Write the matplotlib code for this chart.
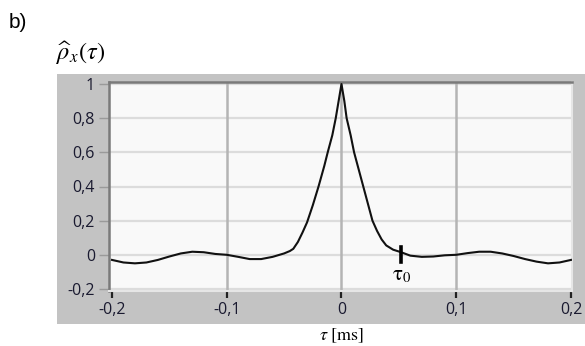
import numpy as np
import matplotlib
matplotlib.use('Agg')
from matplotlib import pyplot as plt
from matplotlib.patches import Rectangle
from matplotlib.ticker import FuncFormatter

plt.rcParams['mathtext.fontset'] = 'stix'

# values
tau = [-0.2, -0.19, -0.18, -0.17, -0.16, -0.15, -0.14, -0.13, -0.12, -0.11,
       -0.10, -0.09, -0.08, -0.07, -0.06, -0.05, -0.045, -0.042, -0.038, -0.034,
       -0.03, -0.025, -0.02, -0.015, -0.012, -0.008, -0.005, -0.0025, 0.0,
       0.0025, 0.0045, 0.008, 0.011, 0.015, 0.019, 0.023, 0.027, 0.031, 0.035,
       0.039, 0.045, 0.052, 0.06, 0.07, 0.08, 0.09, 0.10, 0.11, 0.12, 0.13,
       0.14, 0.15, 0.16, 0.17, 0.18, 0.19, 0.2]
rho = [-0.03, -0.045, -0.05, -0.045, -0.03, -0.01, 0.008, 0.018, 0.015, 0.005,
       0.0, -0.012, -0.025, -0.025, -0.012, 0.008, 0.022, 0.035, 0.075, 0.13,
       0.19, 0.29, 0.4, 0.52, 0.6, 0.7, 0.8, 0.9, 1.0,
       0.9, 0.8, 0.7, 0.6, 0.5, 0.4, 0.3, 0.2, 0.14, 0.09,
       0.055, 0.03, 0.015, -0.005, -0.012, -0.01, -0.003, 0.0, 0.01, 0.018, 0.018,
       0.008, -0.007, -0.025, -0.04, -0.05, -0.045, -0.03]
tau0 = 0.052
xTicks = [-0.2, -0.1, 0.0, 0.1, 0.2]
yTicks = [-0.2, 0.0, 0.2, 0.4, 0.6, 0.8, 1.0]

W, H = 585, 346

def commaFmt(v, pos):
    if abs(v) < 1e-9:
        return '0'
    s = ('%.1f' % v).rstrip('0').rstrip('.')
    return s.replace('.', ',')

fig = plt.figure(figsize=(W / 100, H / 100), dpi=100)

# gray panel behind the graph
fig.patches.append(Rectangle((57 / W, 1 - 324 / H), (W - 57) / W, (324 - 74) / H,
                             transform=fig.transFigure, facecolor='#c3c3c3',
                             edgecolor='none', zorder=-5))

ax = fig.add_axes([109 / W, 1 - 291 / H, (572 - 109) / W, (291 - 82) / H])
ax.set_zorder(5)
ax.set_facecolor('#f9f9f9')
ax.set_xlim(-0.2026, 0.2009)
ax.set_ylim(-0.212, 1.012)

for y in yTicks:
    ax.axhline(y, color='#dcdcdc', lw=1.6, zorder=1)
for x in [-0.1, 0.0, 0.1]:
    ax.axvline(x, color='#b4b4b4', lw=1.8, zorder=1)

ax.plot(tau, rho, color='#111111', lw=1.5, zorder=3)

# tau0 marker
ax.plot([tau0, tau0], [0.047, -0.04], color='black', lw=2.6, zorder=4)
ax.text(tau0 + 0.0008, -0.06, r'$\mathrm{\tau}_0$', fontsize=15,
        ha='center', va='top', zorder=4)

for side in ['left', 'top']:
    ax.spines[side].set_color('#7a7a7a')
    ax.spines[side].set_linewidth(1.8)
for side in ['right', 'bottom']:
    ax.spines[side].set_color('#e6e6e6')
    ax.spines[side].set_linewidth(1.5)

ax.set_xticks(xTicks)
ax.set_yticks(yTicks)
ax.xaxis.set_major_formatter(FuncFormatter(commaFmt))
ax.yaxis.set_major_formatter(FuncFormatter(commaFmt))
ax.tick_params(axis='x', direction='out', length=5, width=1.6, color='#222222',
               pad=3, labelsize=11.5, labelcolor='#1a1a30')
ax.tick_params(axis='y', direction='out', length=7, width=1.0, color='#9a9a9a',
               pad=3, labelsize=11.5, labelcolor='#1a1a30')
for lab in ax.get_xticklabels() + ax.get_yticklabels():
    lab.set_family('Open Sans')

fig.text(9 / W, 1 - 22 / H, 'b)', fontsize=15, family='Liberation Sans',
         ha='left', va='center')
fig.text(56 / W, 1 - 53 / H, r'$\widehat{\rho}_x(\tau)$', fontsize=17.5,
         ha='left', va='center')
fig.text(342 / W, 1 - 336 / H, r'$\tau\ [\mathrm{ms}]$', fontsize=13,
         ha='center', va='center')

fig.savefig('out.png', dpi=100)
